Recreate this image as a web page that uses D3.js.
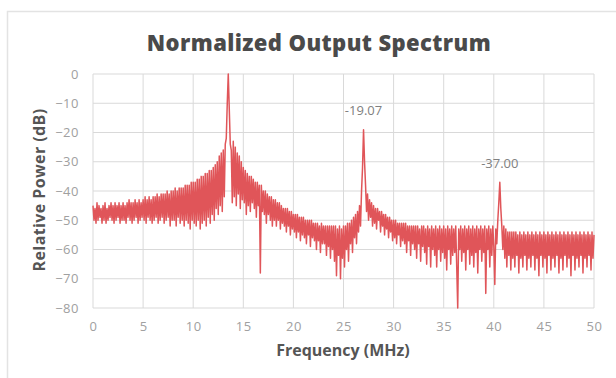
<!DOCTYPE html>
<html>
<head>
<meta charset="utf-8">
<script src="https://cdn.jsdelivr.net/npm/d3@7"></script>
<style>
  html, body { margin: 0; padding: 0; background: #ffffff; }
  svg { display: block; }
</style>
</head>
<body>
<svg id="chart" width="616" height="378"></svg>
<script>
// ---- data ----
const titleText = "Normalized Output Spectrum";
const xLabel = "Frequency (MHz)";
const yLabel = "Relative Power (dB)";
const xTicks = [0, 5, 10, 15, 20, 25, 30, 35, 40, 45, 50];
const yTicks = [0, -10, -20, -30, -40, -50, -60, -70, -80];
const freqStartMHz = 0;
const freqStepMHz = 0.1;
// relative power (dB), one value per 0.1 MHz, rows = 1 MHz
const powerDb = [
  -45,-50,-46,-51,-44,-50,-45,-49,-46,-51,
  -45,-50,-44,-51,-46,-50,-45,-49,-44,-50,
  -45,-51,-44,-50,-45,-49,-44,-51,-45,-50,
  -44,-50,-45,-51,-44,-49,-43,-50,-44,-51,
  -44,-50,-43,-49,-44,-51,-43,-50,-44,-49,
  -43,-50,-42,-51,-43,-49,-42,-50,-43,-51,
  -42,-50,-42,-49,-41,-51,-42,-50,-41,-49,
  -41,-51,-41,-50,-40,-49,-41,-52,-40,-50,
  -40,-50,-39,-52,-40,-49,-39,-51,-39,-50,
  -39,-52,-38,-50,-38,-51,-38,-53,-37,-50,
  -37,-51,-37,-52,-36,-50,-36,-53,-35,-51,
  -35,-50,-34,-52,-34,-49,-33,-51,-33,-48,
  -32,-50,-31,-46,-30,-48,-28,-45,-27,-47,
  -26,-42,-24,-22,-10,0,-12,-24,-26,-44,
  -23,-42,-25,-45,-27,-41,-28,-46,-30,-43,
  -32,-44,-33,-48,-34,-45,-35,-47,-35,-44,
  -36,-46,-37,-49,-37,-45,-38,-68,-38,-47,
  -40,-48,-40,-51,-41,-48,-42,-50,-42,-52,
  -43,-50,-43,-52,-44,-50,-44,-53,-45,-51,
  -46,-52,-46,-54,-46,-52,-47,-55,-47,-53,
  -48,-54,-48,-56,-48,-54,-49,-57,-49,-55,
  -49,-56,-50,-58,-50,-55,-50,-59,-50,-56,
  -51,-57,-51,-60,-51,-57,-52,-61,-51,-58,
  -52,-58,-52,-62,-52,-59,-52,-63,-52,-60,
  -52,-64,-52,-69,-53,-62,-52,-70,-53,-63,
  -52,-66,-52,-60,-51,-64,-51,-58,-50,-61,
  -49,-56,-48,-58,-47,-54,-45,-52,-40,-32,
  -19.07,-30,-38,-47,-41,-50,-43,-49,-44,-52,
  -45,-51,-46,-53,-46,-50,-47,-54,-47,-52,
  -48,-55,-48,-53,-49,-56,-49,-54,-50,-57,
  -50,-56,-50,-58,-51,-55,-51,-59,-51,-57,
  -51,-58,-51,-61,-52,-57,-52,-62,-52,-58,
  -52,-60,-52,-63,-52,-58,-53,-64,-52,-59,
  -52,-61,-53,-65,-52,-59,-53,-66,-52,-60,
  -53,-62,-52,-66,-53,-60,-52,-64,-53,-61,
  -52,-63,-53,-67,-52,-60,-53,-65,-52,-62,
  -53,-61,-52,-66,-80,-53,-60,-52,-64,-53,
  -61,-52,-67,-53,-60,-52,-65,-53,-62,-52,
  -66,-53,-61,-52,-68,-53,-60,-52,-64,-53,
  -61,-52,-75,-53,-60,-52,-66,-53,-62,-52,
  -59,-72,-53,-58,-50,-44,-37,-46,-52,-60,
  -52,-63,-53,-66,-54,-62,-54,-67,-54,-63,
  -54,-66,-54,-62,-55,-68,-54,-63,-55,-66,
  -54,-62,-55,-67,-54,-63,-55,-66,-54,-62,
  -55,-67,-54,-63,-55,-69,-54,-62,-55,-66,
  -54,-63,-55,-68,-54,-62,-55,-67,-54,-63,
  -55,-66,-54,-62,-55,-68,-54,-63,-55,-67,
  -54,-62,-55,-66,-54,-63,-55,-69,-54,-62,
  -55,-67,-54,-63,-55,-66,-54,-62,-55,-68,
  -54,-63,-55,-66,-54,-62,-55,-67,-54,-63,
  -55
];
const peakLabels = [
  { freq: 27.0, value: -19.07, text: "-19.07" },
  { freq: 40.6, value: -37.00, text: "-37.00" }
];

// ---- layout ----
const svg = d3.select("#chart");
const W = 616, H = 378;
const margin = { left: 93, right: 22, top: 74, bottom: 70 };
const plotW = W - margin.left - margin.right;
const plotH = H - margin.top - margin.bottom;
const font = "'Open Sans', 'Lato', sans-serif";

// card border
svg.append("rect")
  .attr("x", 7.5).attr("y", 11.5)
  .attr("width", W).attr("height", H)
  .attr("fill", "#fff")
  .attr("stroke", "#e3e3e3").attr("stroke-width", 1.5);

const x = d3.scaleLinear().domain([0, 50]).range([0, plotW]);
const y = d3.scaleLinear().domain([-80, 0]).range([plotH, 0]);

const g = svg.append("g").attr("transform", `translate(${margin.left},${margin.top})`);

// grid
g.append("g").selectAll("line.vg").data(xTicks).join("line")
  .attr("x1", d => x(d)).attr("x2", d => x(d))
  .attr("y1", 0).attr("y2", plotH)
  .attr("stroke", "#d9d9d9").attr("stroke-width", 1);
g.append("g").selectAll("line.hg").data(yTicks).join("line")
  .attr("x1", 0).attr("x2", plotW)
  .attr("y1", d => y(d)).attr("y2", d => y(d))
  .attr("stroke", "#d9d9d9").attr("stroke-width", 1);

// axes (labels only)
const xAxis = d3.axisBottom(x).tickValues(xTicks).tickSize(0).tickPadding(14);
const gx = g.append("g").attr("transform", `translate(0,${plotH})`).call(xAxis);
gx.select(".domain").remove();
gx.selectAll("text").attr("fill", "#a0a0a0").style("font-family", font)
  .style("font-size", "13px").style("letter-spacing", "0.5px");

const yAxis = d3.axisLeft(y).tickValues(yTicks).tickSize(0).tickPadding(14);
const gy = g.append("g").call(yAxis);
gy.select(".domain").remove();
gy.selectAll("text").attr("fill", "#a0a0a0").style("font-family", font)
  .style("font-size", "13px").style("letter-spacing", "0.5px");

// data line
const pts = powerDb.map((v, i) => [freqStartMHz + i * freqStepMHz, v]);
const line = d3.line().x(d => x(d[0])).y(d => y(d[1]));
g.append("path").datum(pts)
  .attr("d", line)
  .attr("fill", "none")
  .attr("stroke", "#e05559")
  .attr("stroke-width", 1.5)
  .attr("stroke-linejoin", "round");

// peak labels
g.selectAll("text.peak").data(peakLabels).join("text")
  .attr("class", "peak")
  .attr("x", d => x(d.freq))
  .attr("y", d => y(d.value + 6.5))
  .attr("dy", "0.35em")
  .attr("text-anchor", "middle")
  .attr("fill", "#808080")
  .style("font-family", font).style("font-size", "13px")
  .text(d => d.text);

// title
svg.append("text")
  .attr("x", 319).attr("y", 51)
  .attr("text-anchor", "middle")
  .attr("fill", "#4a4a4a")
  .style("font-family", font).style("font-weight", "800").style("font-size", "22px")
  .style("letter-spacing", "0.4px")
  .text(titleText);

// x label
svg.append("text")
  .attr("x", 343).attr("y", 356)
  .attr("text-anchor", "middle")
  .attr("fill", "#555")
  .style("font-family", font).style("font-weight", "700").style("font-size", "16px")
  .text(xLabel);

// y label
svg.append("text")
  .attr("transform", `translate(45,${190}) rotate(-90)`)
  .attr("text-anchor", "middle")
  .attr("fill", "#555")
  .style("font-family", font).style("font-weight", "700").style("font-size", "16px")
  .style("letter-spacing", "0.4px")
  .text(yLabel);
</script>
</body>
</html>
